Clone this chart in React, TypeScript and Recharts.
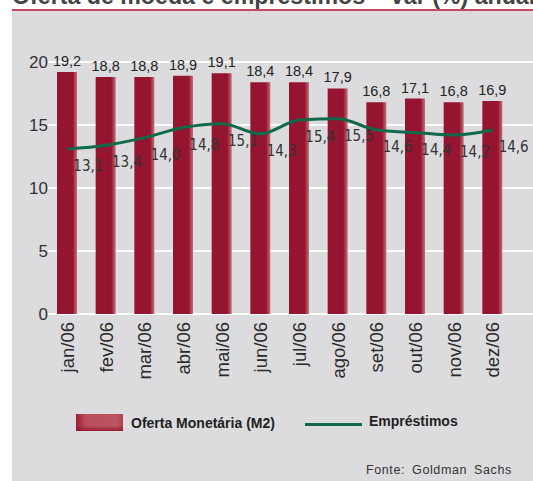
import React from "react";
import {
  ComposedChart,
  Bar,
  Line,
  XAxis,
  YAxis,
  CartesianGrid,
  LabelList,
} from "recharts";

const months = [
  "jan/06", "fev/06", "mar/06", "abr/06", "mai/06", "jun/06",
  "jul/06", "ago/06", "set/06", "out/06", "nov/06", "dez/06",
];
const ofertaM2 = [19.2, 18.8, 18.8, 18.9, 19.1, 18.4, 18.4, 17.9, 16.8, 17.1, 16.8, 16.9];
const emprestimos = [13.1, 13.4, 14.0, 14.8, 15.1, 14.3, 15.4, 15.5, 14.6, 14.4, 14.2, 14.6];
const yTicks = [0, 5, 10, 15, 20];

const data = months.map((m, i) => ({
  month: m,
  m2: ofertaM2[i],
  emp: emprestimos[i],
}));

const FONT = "'Liberation Sans', Arial, Helvetica, sans-serif";
const NARROW = "'Liberation Sans Narrow', 'DejaVu Sans Condensed', Arial, sans-serif";
const BG = "#dcdcde";
const BAR = "#951430";
const GREEN = "#0f6a4b";

const fmt = (v: any) => String(v.toFixed ? v.toFixed(1) : v).replace(".", ",");

const MonthTick = (props: any) => {
  const { x, y, payload } = props;
  return (
    <text
      x={0}
      y={0}
      transform={`translate(${x},${y}) rotate(-90)`}
      textAnchor="end"
      dominantBaseline="central"
      fontFamily={FONT}
      fontSize={18.5}
      fill="#2a2a2a"
    >
      {payload.value}
    </text>
  );
};

const LineLabel = (props: any) => {
  const { x, y, value } = props;
  return (
    <text
      x={x + 21}
      y={y + 17}
      textAnchor="middle"
      dominantBaseline="central"
      fontFamily={NARROW}
      fontSize={15}
      fill="#333"
    >
      {fmt(value)}
    </text>
  );
};

export default function App() {
  return (
    <div
      style={{
        position: "absolute",
        top: 0,
        left: 0,
        width: 533,
        height: 481,
        overflow: "hidden",
        background: "#fff",
      }}
    >
      {/* title, cut off at the top like the source */}
      <div
        style={{
          position: "absolute",
          left: 12,
          top: -17,
          whiteSpace: "nowrap",
          fontFamily: FONT,
          fontWeight: "bold",
          fontSize: 23.2,
          lineHeight: "26px",
          color: "#444",
        }}
      >
        Oferta de moeda e empréstimos – var (%) anual
      </div>
      <div
        style={{
          position: "absolute",
          left: 12,
          top: 9,
          width: 521,
          height: 2,
          background: "#c4485e",
        }}
      />
      <div
        style={{
          position: "absolute",
          left: 12,
          top: 11,
          width: 521,
          height: 470,
          background: BG,
        }}
      />

      <div style={{ position: "absolute", left: 0, top: 0 }}>
        <ComposedChart
          width={533}
          height={400}
          data={data}
          margin={{ top: 62, right: 0, left: 8, bottom: 0 }}
        >
          <defs>
            <linearGradient id="barFill" x1="0" y1="0" x2="1" y2="0">
              <stop offset="0%" stopColor={BAR} />
              <stop offset="78%" stopColor={BAR} />
              <stop offset="100%" stopColor="#c27078" />
            </linearGradient>
          </defs>
          <CartesianGrid
            vertical={false}
            stroke="#ffffff"
            strokeWidth={2}
          />
          <XAxis
            dataKey="month"
            height={86}
            axisLine={false}
            tickLine={false}
            tickSize={0}
            tickMargin={8}
            interval={0}
            padding={{ left: 0, right: 21 }}
            tick={<MonthTick />}
          />
          <YAxis
            width={40}
            domain={[0, 20]}
            ticks={yTicks}
            axisLine={false}
            tickLine={false}
            tickSize={0}
            tickMargin={0}
            tick={{ fontFamily: FONT, fontSize: 17, fill: "#333" }}
          />
          <Bar
            dataKey="m2"
            barSize={20}
            fill="url(#barFill)"
            isAnimationActive={false}
          >
            <LabelList
              dataKey="m2"
              position="top"
              offset={6}
              formatter={fmt}
              style={{ fontFamily: FONT, fontSize: 14.5, fill: "#222" }}
            />
          </Bar>
          <Line
            dataKey="emp"
            type="monotone"
            stroke={GREEN}
            strokeWidth={3}
            dot={false}
            activeDot={false}
            isAnimationActive={false}
          >
            <LabelList dataKey="emp" content={<LineLabel />} />
          </Line>
        </ComposedChart>
      </div>

      {/* legend */}
      <div
        style={{
          position: "absolute",
          left: 76,
          top: 414,
          width: 47,
          height: 17,
          background:
            "linear-gradient(to bottom, rgba(150,20,45,0) 70%, rgba(150,20,45,0.9) 100%), linear-gradient(to right, #a01c34 0%, #b84e58 20%, #ba5660 85%, #b0404e 100%)",
        }}
      />
      <div
        style={{
          position: "absolute",
          left: 131,
          top: 414,
          fontFamily: FONT,
          fontWeight: "bold",
          fontSize: 14,
          lineHeight: "18px",
          color: "#222",
          whiteSpace: "nowrap",
        }}
      >
        Oferta Monetária (M2)
      </div>
      <div
        style={{
          position: "absolute",
          left: 305,
          top: 423,
          width: 57,
          height: 3,
          background: GREEN,
        }}
      />
      <div
        style={{
          position: "absolute",
          left: 369,
          top: 412,
          fontFamily: FONT,
          fontWeight: "bold",
          fontSize: 14,
          lineHeight: "18px",
          color: "#222",
          whiteSpace: "nowrap",
        }}
      >
        Empréstimos
      </div>
      <div
        style={{
          position: "absolute",
          left: 366,
          top: 462,
          fontFamily: FONT,
          fontSize: 12.5,
          lineHeight: "16px",
          letterSpacing: 0.6,
          wordSpacing: 3,
          color: "#333",
          whiteSpace: "nowrap",
        }}
      >
        Fonte: Goldman Sachs
      </div>
    </div>
  );
}
